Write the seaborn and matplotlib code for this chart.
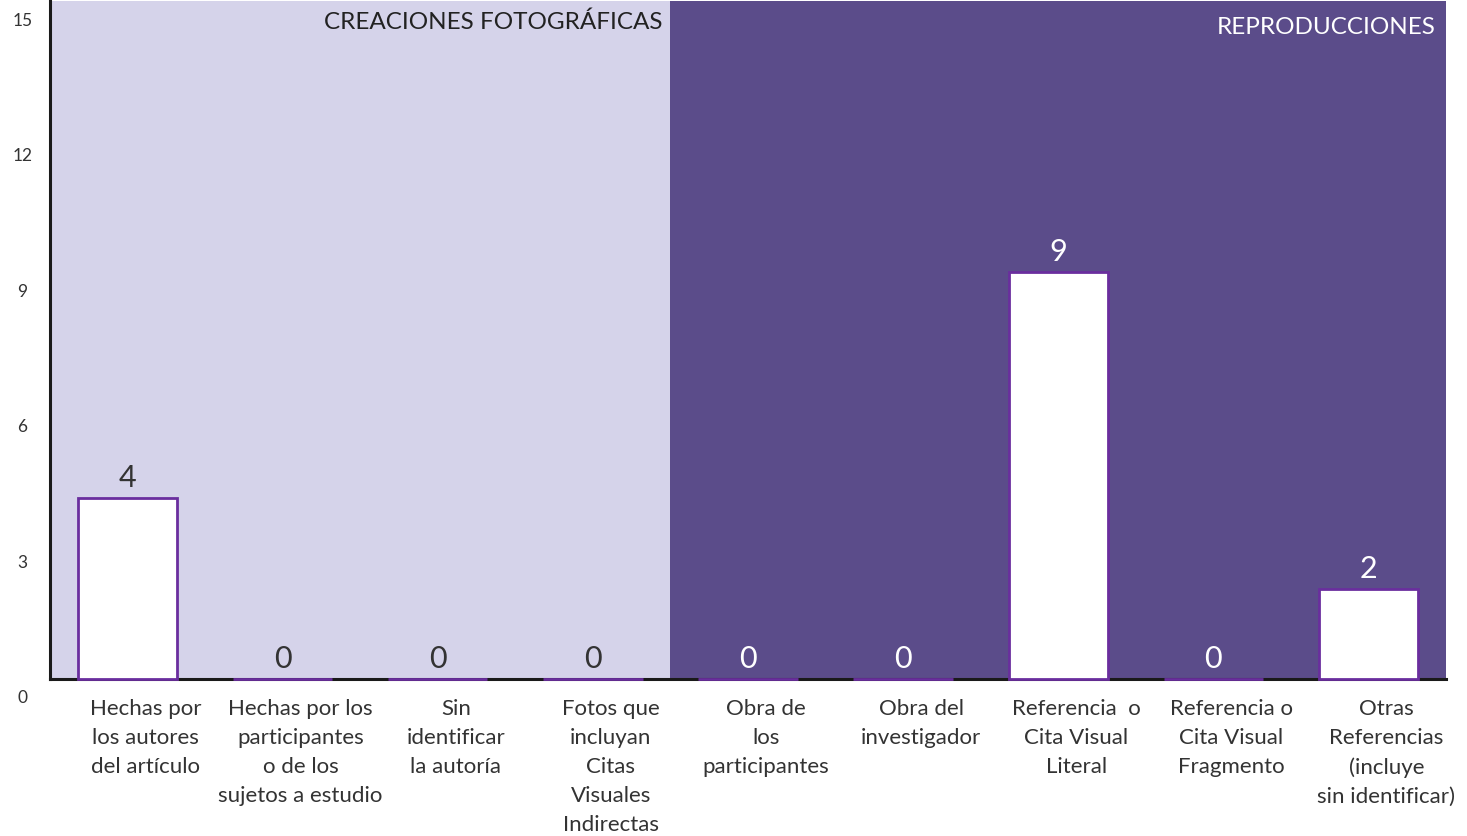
import matplotlib
matplotlib.use("Agg")
import matplotlib.pyplot as plt
import matplotlib.transforms as mtrans
import seaborn as sns
import pandas as pd

categories = [
    "Hechas por\nlos autores\ndel artículo",
    "Hechas por los\nparticipantes\no de los\nsujetos a estudio",
    "Sin\nidentificar\nla autoría",
    "Fotos que\nincluyan\nCitas\nVisuales\nIndirectas",
    "Obra de\nlos\nparticipantes",
    "Obra del\ninvestigador",
    "Referencia  o\nCita Visual\nLiteral",
    "Referencia o\nCita Visual\nFragmento",
    "Otras\nReferencias\n(incluye\nsin identificar)",
]
values = [4, 0, 0, 0, 0, 0, 9, 0, 2]
y_ticks = [0, 3, 6, 9, 12, 15]
group_labels = ["CREACIONES FOTOGRÁFICAS", "REPRODUCCIONES"]

LIGHT = "#D5D3EA"
DARK = "#5B4C8A"
EDGE = "#6A2E9E"
TXT = "#333333"

sns.set_theme(style="white")
plt.rcParams["font.family"] = ["Lato", "DejaVu Sans"]

fig = plt.figure(figsize=(14.67, 8.37), dpi=100)
ax = fig.add_axes([50 / 1467, 157 / 837, 1396 / 1467, 678 / 837])

df = pd.DataFrame({"cat": categories, "val": values})

ax.axvspan(-0.5, 3.5, color=LIGHT, zorder=0, lw=0)
ax.axvspan(3.5, 8.5, color=DARK, zorder=0, lw=0)

sns.barplot(data=df, x="cat", y="val", color="white", edgecolor=EDGE,
            linewidth=2, width=0.64, saturation=1, ax=ax, zorder=3)
for p in ax.patches:
    p.set_clip_on(False)

ax.set_xlim(-0.5, 8.5)
ax.set_ylim(0, 15)
ax.set_yticks(y_ticks)
ax.set_yticklabels([str(t) for t in y_ticks])
ax.set_xlabel("")
ax.set_ylabel("")

for s in ["top", "right"]:
    ax.spines[s].set_visible(False)
for s in ["left", "bottom"]:
    ax.spines[s].set_color("#1a1a1a")
    ax.spines[s].set_linewidth(2.2)

ax.tick_params(axis="y", length=0, pad=20, labelsize=12.5, labelcolor=TXT)
ax.tick_params(axis="x", length=0, pad=14, labelsize=16, labelcolor=TXT)

off_y = mtrans.ScaledTranslation(0, -17 / 100, fig.dpi_scale_trans)
for lbl in ax.get_yticklabels():
    lbl.set_transform(lbl.get_transform() + off_y)
    lbl.set_horizontalalignment("center")
off_x = mtrans.ScaledTranslation(18 / 100, 0, fig.dpi_scale_trans)
for lbl in ax.get_xticklabels():
    lbl.set_transform(lbl.get_transform() + off_x)
    lbl.set_linespacing(1.55)
    lbl.set_horizontalalignment("center")

for i, v in enumerate(values):
    col = TXT if i < 4 else "white"
    ax.annotate(str(v), (i, v), xytext=(0, 5), textcoords="offset points",
                ha="center", va="bottom", fontsize=22, color=col, zorder=5)

ax.text(3.45, 14.78, group_labels[0], ha="right", va="top",
        fontsize=17.5, color="#222222")
ax.text(8.43, 14.66, group_labels[1], ha="right", va="top", fontsize=17.5,
        color="white")

fig.savefig("out.png", dpi=100)
